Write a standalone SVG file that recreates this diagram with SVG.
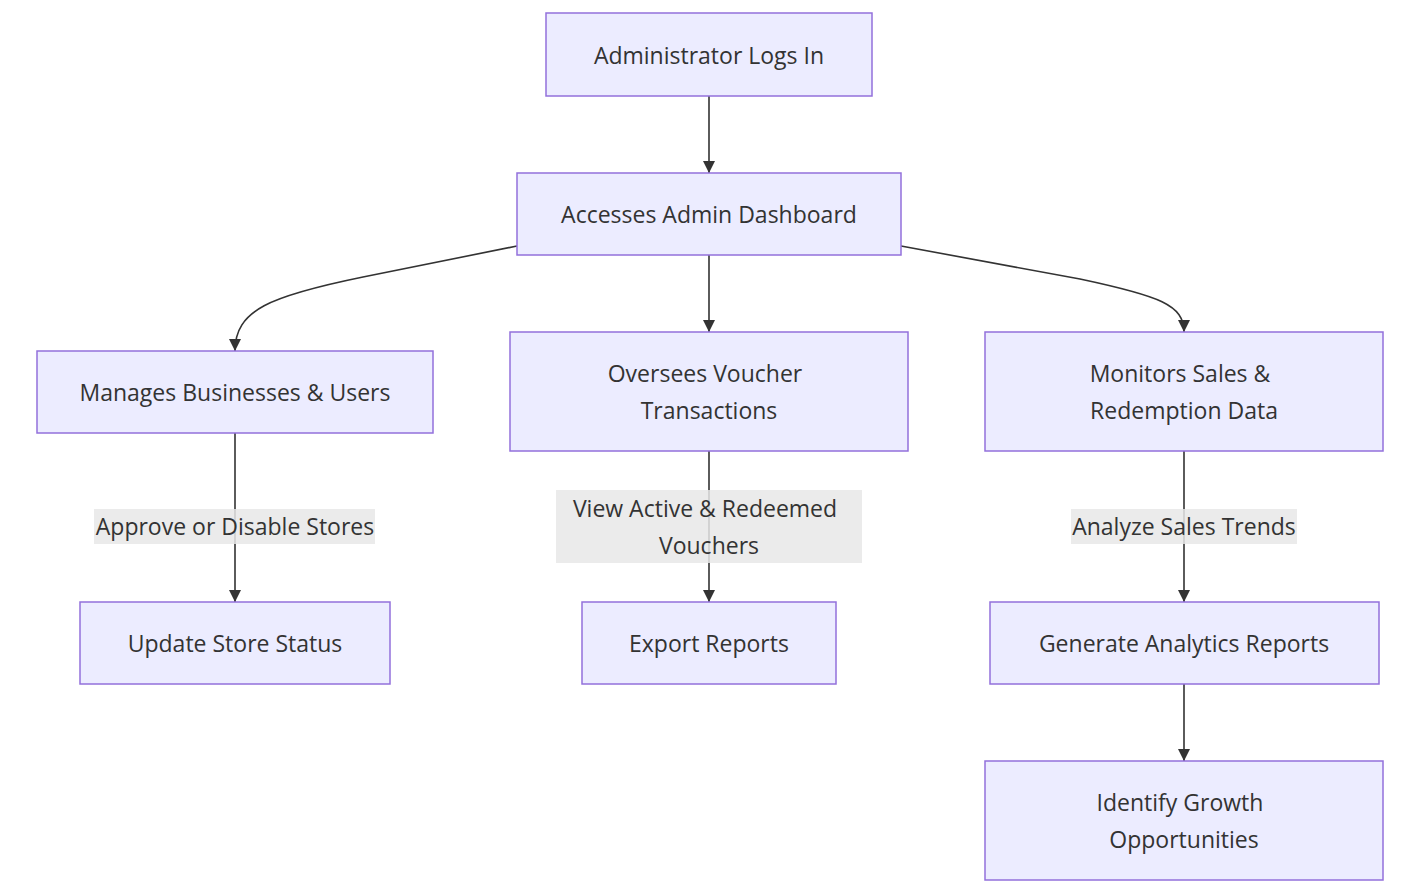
<svg xmlns="http://www.w3.org/2000/svg" width="1403" height="887" viewBox="0 0 1403 887">
<style>
.node rect{fill:#ECECFF;stroke:#9370DB;stroke-width:1.5}
text{font-family:"Open Sans","DejaVu Sans",sans-serif;font-size:23px;fill:#333;text-anchor:middle;dominant-baseline:central}
.edge{fill:none;stroke:#333;stroke-width:1.6}
.lbl rect{fill:#e8e8e8;fill-opacity:0.85}
</style>
<defs>
<marker id="arrow" markerUnits="userSpaceOnUse" markerWidth="12" markerHeight="12" viewBox="0 0 10 10" refX="10" refY="5" orient="auto">
<path d="M0,0 L10,5 L0,10 z" fill="#333"/>
</marker>
</defs>
<rect width="1403" height="887" fill="#fff"/>
<g id="connectors">
<path class="edge" d="M709,96 L709,173" marker-end="url(#arrow)"/>
<path class="edge" d="M517,246 L363,277 C270,296 235,310 235,351" marker-end="url(#arrow)"/>
<path class="edge" d="M709,255 L709,332" marker-end="url(#arrow)"/>
<path class="edge" d="M901,246 L1080,279 C1160,296 1184,305 1184,332" marker-end="url(#arrow)"/>
<path class="edge" d="M235,433 L235,602" marker-end="url(#arrow)"/>
<path class="edge" d="M709,451 L709,602" marker-end="url(#arrow)"/>
<path class="edge" d="M1184,451 L1184,602" marker-end="url(#arrow)"/>
<path class="edge" d="M1184,684 L1184,761" marker-end="url(#arrow)"/>
<g class="lbl" id="label-approve"><rect x="94" y="509" width="281" height="35"/><text x="235" y="526">Approve or Disable Stores</text></g>
<g class="lbl" id="label-view"><rect x="556" y="490" width="306" height="73"/><text x="705" y="508">View Active &amp; Redeemed</text><text x="709" y="545">Vouchers</text></g>
<g class="lbl" id="label-analyze"><rect x="1071" y="509" width="226" height="35"/><text x="1184" y="526">Analyze Sales Trends</text></g>
</g>
<g class="node" id="n-login"><rect x="546" y="13" width="326" height="83"/><text x="709" y="55">Administrator Logs In</text></g>
<g class="node" id="n-dashboard"><rect x="517" y="173" width="384" height="82"/><text x="709" y="214">Accesses Admin Dashboard</text></g>
<g class="node" id="n-manage"><rect x="37" y="351" width="396" height="82"/><text x="235" y="392">Manages Businesses &amp; Users</text></g>
<g class="node" id="n-oversee"><rect x="510" y="332" width="398" height="119"/><text x="705" y="373">Oversees Voucher</text><text x="709" y="410">Transactions</text></g>
<g class="node" id="n-monitor"><rect x="985" y="332" width="398" height="119"/><text x="1180" y="373">Monitors Sales &amp;</text><text x="1184" y="410">Redemption Data</text></g>
<g class="node" id="n-update"><rect x="80" y="602" width="310" height="82"/><text x="235" y="643">Update Store Status</text></g>
<g class="node" id="n-export"><rect x="582" y="602" width="254" height="82"/><text x="709" y="643">Export Reports</text></g>
<g class="node" id="n-generate"><rect x="990" y="602" width="389" height="82"/><text x="1184" y="643">Generate Analytics Reports</text></g>
<g class="node" id="n-identify"><rect x="985" y="761" width="398" height="119"/><text x="1180" y="802">Identify Growth</text><text x="1184" y="839">Opportunities</text></g>
</svg>
